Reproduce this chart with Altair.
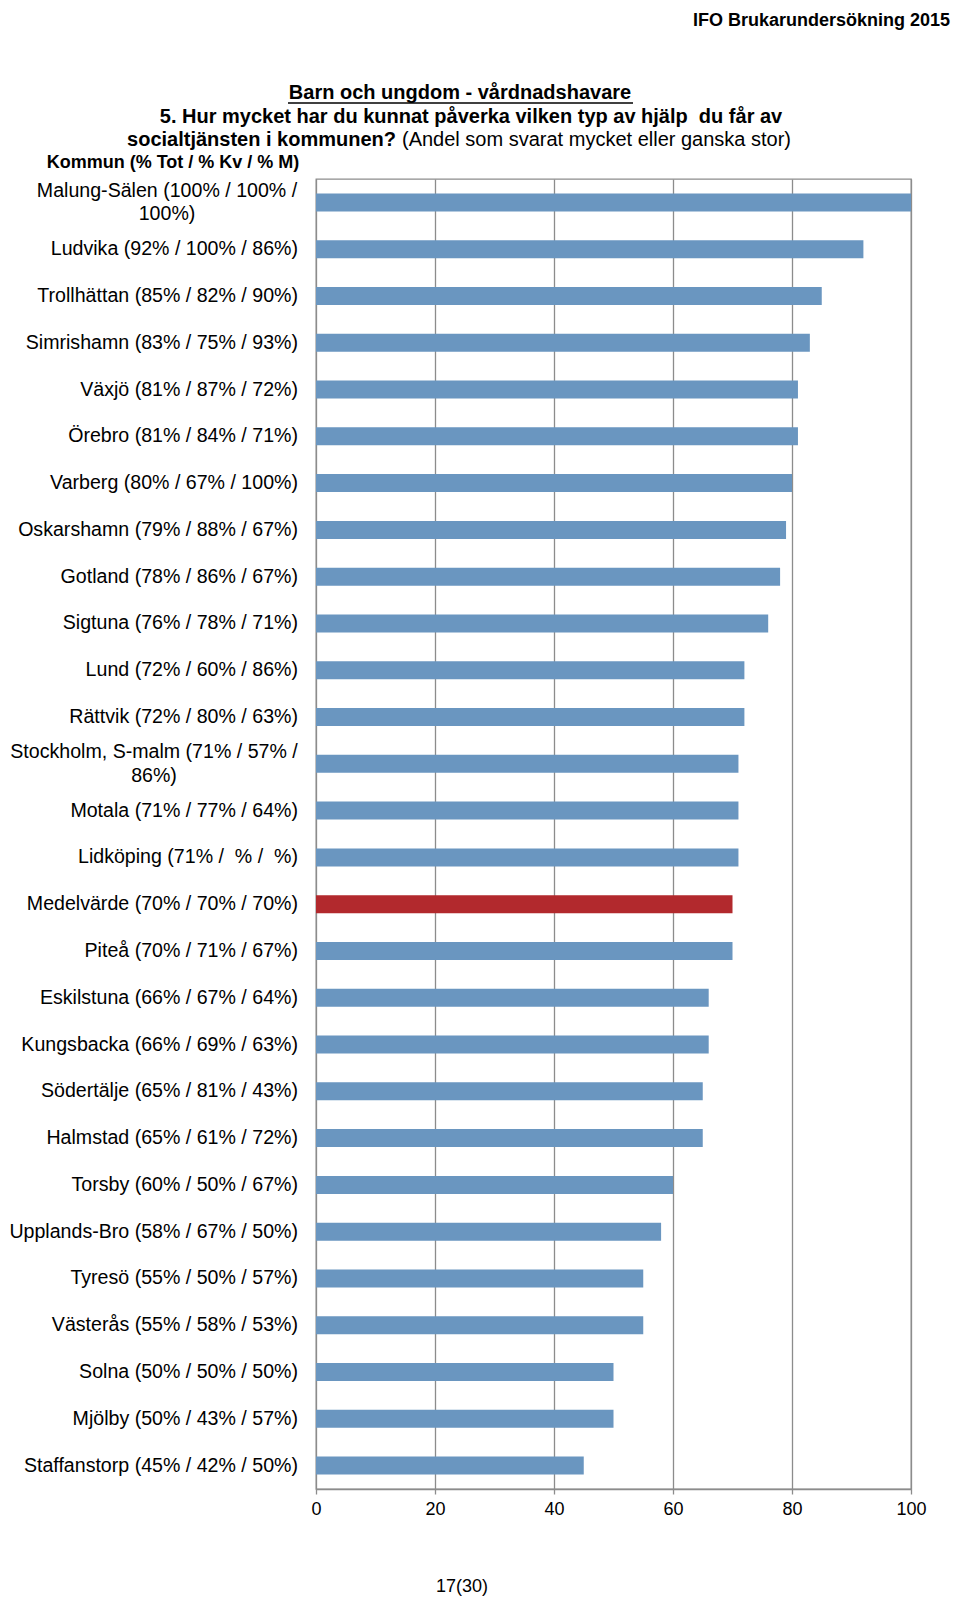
import altair as alt
import pandas as pd

# ---------------- data ----------------
names = ["Malung-Sälen", "Ludvika", "Trollhättan", "Simrishamn", "Växjö", "Örebro",
         "Varberg", "Oskarshamn", "Gotland", "Sigtuna", "Lund", "Rättvik",
         "Stockholm, S-malm", "Motala", "Lidköping", "Medelvärde", "Piteå",
         "Eskilstuna", "Kungsbacka", "Södertälje", "Halmstad", "Torsby",
         "Upplands-Bro", "Tyresö", "Västerås", "Solna", "Mjölby", "Staffanstorp"]
tot = [100, 92, 85, 83, 81, 81, 80, 79, 78, 76, 72, 72, 71, 71, 71, 70, 70,
       66, 66, 65, 65, 60, 58, 55, 55, 50, 50, 45]
kv = ["100", "100", "82", "75", "87", "84", "67", "88", "86", "78", "60", "80",
      "57", "77", "\u00a0", "70", "71", "67", "69", "81", "61", "50", "67", "50",
      "58", "50", "43", "42"]
men = ["100", "86", "90", "93", "72", "71", "100", "67", "67", "71", "86", "63",
       "86", "64", "\u00a0", "70", "67", "64", "63", "43", "72", "67", "50", "57",
       "53", "50", "57", "50"]
mean_name = "Medelvärde"
wrapped = ["Malung-Sälen", "Stockholm, S-malm"]

x_ticks = [0, 20, 40, 60, 80, 100]

header_text = "IFO Brukarundersökning 2015"
title_line1 = "Barn och ungdom - vårdnadshavare"
title_line2 = "5. Hur mycket har du kunnat påverka vilken typ av hjälp \u00a0du får av"
title_line3_bold = "socialtjänsten i kommunen?"
title_line3_reg = "(Andel som svarat mycket eller ganska stor)"
kommun_header = "Kommun (% Tot / % Kv / % M)"
page_text = "17(30)"

# ---------------- table ----------------
rows = []
for n, t, k, m in zip(names, tot, kv, men):
    label = f"{n} ({t}% / {k}% / {m}%)"
    if n in wrapped:
        i = label.rfind("/ ")
        label = label[: i + 1] + "\n" + label[i + 2:]
    rows.append({"name": n, "value": t, "label": label,
                 "kind": "medel" if n == mean_name else "kommun",
                 "wrap": n in wrapped})
df = pd.DataFrame(rows)

FONT = "Liberation Sans"
BLUE = "#6A96C0"
RED = "#B2292D"
GRID = "#8c8c8c"
LAB = 19.6

y_enc = alt.Y("name:N", sort=names, axis=None,
              scale=alt.Scale(paddingInner=0.615, paddingOuter=0.3075))

base = alt.Chart(df)

bars = base.mark_bar().encode(
    x=alt.X("value:Q",
            scale=alt.Scale(domain=[0, 100], nice=False),
            axis=alt.Axis(values=x_ticks, title=None, grid=True, gridColor=GRID,
                          gridWidth=1.3, domainColor=GRID, domainWidth=1.5,
                          tickColor=GRID, tickWidth=1.3, tickSize=5,
                          labelFont=FONT, labelFontSize=18, labelColor="black",
                          labelPadding=6, labelFlush=False)),
    y=y_enc,
    color=alt.Color("kind:N", scale=alt.Scale(domain=["kommun", "medel"],
                                              range=[BLUE, RED]), legend=None),
)

labels_single = base.transform_filter("!datum.wrap").mark_text(
    align="right", baseline="middle", font=FONT, fontSize=LAB, color="black"
).encode(y=y_enc, x=alt.value(-18), text="label:N")

labels_wrap1 = base.transform_filter(alt.datum.name == wrapped[0]).mark_text(
    align="center", baseline="middle", font=FONT, fontSize=LAB, color="black",
    lineBreak="\n", lineHeight=23.5, dy=-11.5
).encode(y=y_enc, x=alt.value(-149), text="label:N")

labels_wrap2 = base.transform_filter(alt.datum.name == wrapped[1]).mark_text(
    align="center", baseline="middle", font=FONT, fontSize=LAB, color="black",
    lineBreak="\n", lineHeight=23.5, dy=-11.5
).encode(y=y_enc, x=alt.value(-162), text="label:N")


def note(text, x, y, size, bold=False, align="center", baseline="middle"):
    return alt.Chart(pd.DataFrame({"t": [text]})).mark_text(
        align=align, baseline=baseline, font=FONT, fontSize=size,
        fontWeight="bold" if bold else "normal", color="black"
    ).encode(text="t:N", x=alt.value(x), y=alt.value(y))


header = note(header_text, 634, -167, 18, bold=True, align="right", baseline="top")
t1 = note(title_line1, 144, -86, 20, bold=True)
t2 = note(title_line2, 155, -62, 20, bold=True)
t3a = note(title_line3_bold, 80, -39, 20, bold=True, align="right")
t3b = note(title_line3_reg, 86, -39, 20, align="left")
kh = note(kommun_header, -143, -16, 18, bold=True)
pg = note(page_text, 146, 1408, 18)

underline = alt.Chart(pd.DataFrame({"u": [0]})).mark_rule(
    color="black", strokeWidth=1.6
).encode(x=alt.value(-28), x2=alt.value(317), y=alt.value(-76))

chart = alt.layer(
    bars, labels_single, labels_wrap1, labels_wrap2,
    header, t1, underline, t2, t3a, t3b, kh, pg
).properties(
    width=595, height=1310,
    autosize=alt.AutoSizeParams(type="none"),
    padding={"left": 308, "top": 171, "right": 41, "bottom": 108},
).configure_view(stroke=GRID, strokeWidth=1.3)

chart.save("out.html", embed_options={"renderer": "svg", "actions": False})
